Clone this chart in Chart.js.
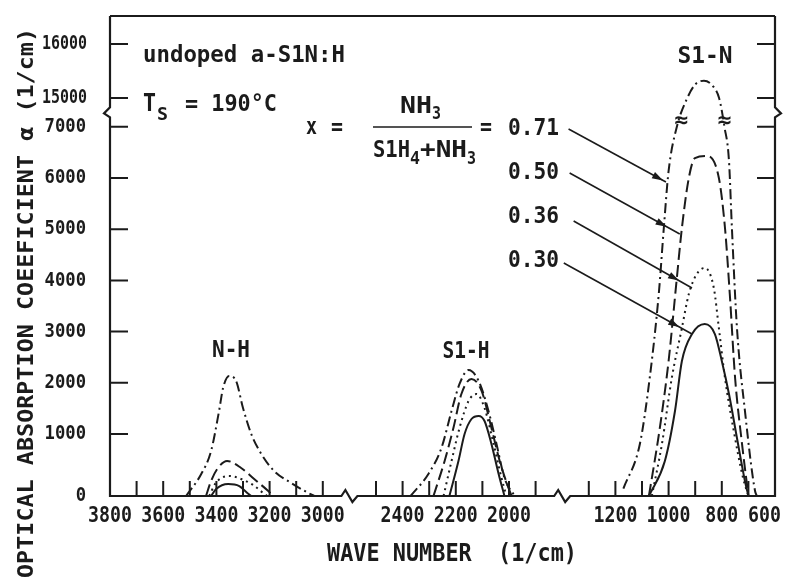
<!DOCTYPE html>
<html>
<head>
<meta charset="utf-8">
<title>a-SiN:H IR absorption</title>
<script src="https://cdn.jsdelivr.net/npm/chart.js@4.4.1/dist/chart.umd.min.js"></script>
<style>
  html, body { margin: 0; padding: 0; background: #fff; }
  #wrap { width: 787px; height: 579px; }
</style>
</head>
<body>
<div id="wrap"><canvas id="ir-chart" width="787" height="579"></canvas></div>
<script>
// gas ratio x = NH3 / (SiH4 + NH3) of each curve
const ratioLabels = ['0.71', '0.50', '0.36', '0.30'];

// labelled ticks of the broken axes
const waveTicks = [3800, 3600, 3400, 3200, 3000, 2400, 2200, 2000, 1200, 1000, 800, 600];
const alphaTicks = [0, 1000, 2000, 3000, 4000, 5000, 6000, 7000, 15000, 16000];

// N-H band (wave number 1/cm, alpha 1/cm)
const nh71Wave = [3514, 3457, 3420, 3390, 3375, 3352, 3326, 3300, 3269, 3231, 3183, 3119, 3055, 3032];
const nh71Alpha = [0, 355, 726, 1449, 1898, 2133, 2035, 1508, 1000, 677, 403, 210, 50, 0];
const nh50Wave = [3439, 3420, 3397, 3360, 3307, 3258, 3205, 3186];
const nh50Alpha = [0, 242, 435, 565, 452, 274, 80, 0];
const nh36Wave = [3427, 3405, 3382, 3352, 3307, 3262, 3224, 3209];
const nh36Alpha = [0, 194, 290, 323, 274, 177, 48, 0];
const nh30Wave = [3420, 3401, 3356, 3314, 3288, 3269];
const nh30Alpha = [0, 113, 194, 161, 65, 0];

// Si-H band
const sih71Wave = [2370, 2303, 2254, 2216, 2186, 2152, 2114, 2077, 2047, 2017, 1979];
const sih71Alpha = [0, 355, 774, 1449, 1977, 2250, 2035, 1449, 840, 290, 0];
const sih50Wave = [2284, 2242, 2209, 2179, 2141, 2103, 2066, 2035, 2002, 1990];
const sih50Alpha = [0, 565, 1117, 1781, 2074, 1840, 1117, 565, 130, 0];
const sih36Wave = [2246, 2216, 2186, 2152, 2122, 2092, 2058, 2028, 2010];
const sih36Alpha = [0, 565, 1117, 1645, 1781, 1508, 840, 290, 0];
const sih30Wave = [2224, 2190, 2167, 2141, 2114, 2092, 2066, 2039, 2017];
const sih30Alpha = [0, 565, 1000, 1293, 1352, 1254, 840, 355, 0];

// Si-N band
const sin71Wave = [1170, 1108, 1071, 1037, 1018, 1000, 969, 930, 900, 867, 830, 810, 790, 773, 762, 743, 713, 675, 668];
const sin71Alpha = [120, 840, 2094, 3734, 5023, 6137, 7000, 14950, 15250, 15320, 15200, 14950, 7000, 6332, 5023, 3070, 1450, 80, 0];
const sin50Wave = [1074, 1033, 1000, 969, 950, 924, 901, 856, 811, 788, 770, 750, 724, 700];
const sin50Alpha = [0, 1117, 2426, 4047, 5023, 6000, 6390, 6430, 6000, 5023, 3734, 2094, 840, 0];
const sin36Wave = [1063, 1025, 988, 950, 924, 894, 864, 830, 811, 788, 757, 720, 700];
const sin36Alpha = [0, 840, 2094, 3070, 3734, 4125, 4242, 3852, 3070, 2094, 1117, 290, 0];
const sin30Wave = [1074, 1014, 976, 950, 912, 864, 826, 800, 773, 743, 713, 700];
const sin30Alpha = [0, 565, 1449, 2426, 2953, 3148, 2953, 2426, 1781, 935, 242, 0];

// line style of each ratio
const ratioDash = [[10, 4, 2, 4], [12, 5], [2, 4], []];

// x axis is broken twice: 3800-2900 | 2500-1900 | 1300-600, one unit = 100 1/cm
function waveToAxis(w) {
  if (w >= 2700) return (3800 - w) / 100;
  if (w >= 1600) return (3500 - w) / 100;
  return (3100 - w) / 100;
}

// y axis: hand drawn, the 0-1000 step is taller, broken between 7000 and 15000
function alphaToAxis(a) {
  if (a <= 1000) return a * 0.062;
  if (a <= 7000) return 62 + (a - 1000) * 0.0512;
  if (a < 15000) return 369.2 + (a - 7000) * (398 - 369.2) / 8000;
  return 398 + (a - 15000) * 0.054;
}

function band(waves, alphas) {
  return waves.map((w, i) => ({ x: waveToAxis(w), y: alphaToAxis(alphas[i]) }));
}

const bands = [
  [[nh71Wave, nh71Alpha], [sih71Wave, sih71Alpha], [sin71Wave, sin71Alpha]],
  [[nh50Wave, nh50Alpha], [sih50Wave, sih50Alpha], [sin50Wave, sin50Alpha]],
  [[nh36Wave, nh36Alpha], [sih36Wave, sih36Alpha], [sin36Wave, sin36Alpha]],
  [[nh30Wave, nh30Alpha], [sih30Wave, sih30Alpha], [sin30Wave, sin30Alpha]]
];

const datasets = [];
bands.forEach((list, s) => {
  list.forEach(([w, a]) => {
    datasets.push({
      label: 'x = ' + ratioLabels[s],
      data: band(w, a),
      borderColor: '#1b1b1b',
      borderWidth: 2,
      borderDash: ratioDash[s],
      pointRadius: 0,
      fill: false,
      cubicInterpolationMode: 'monotone'
    });
  });
});

const FONT = '"DejaVu Sans Mono", "Liberation Mono", monospace';
const INK = '#1b1b1b';

// draw text squeezed/stretched to a given width
function fitText(ctx, text, x, y, width, align) {
  const m = ctx.measureText(text).width;
  let left = x;
  if (align === 'center') left = x - width / 2;
  if (align === 'right') left = x - width;
  ctx.save();
  ctx.translate(left, y);
  ctx.scale(width / m, 1);
  ctx.textAlign = 'left';
  ctx.fillText(text, 0, 0);
  ctx.restore();
}

function squeezeText(ctx, text, x, y, sx, align) {
  const w = ctx.measureText(text).width * sx;
  fitText(ctx, text, x, y, w, align);
  return w;
}

function arrow(ctx, x1, y1, x2, y2, headAt) {
  ctx.beginPath();
  ctx.moveTo(x1, y1);
  ctx.lineTo(x2, y2);
  ctx.stroke();
  const hx = x1 + (x2 - x1) * headAt;
  const hy = y1 + (y2 - y1) * headAt;
  const ang = Math.atan2(y2 - y1, x2 - x1);
  ctx.save();
  ctx.translate(hx, hy);
  ctx.rotate(ang);
  ctx.beginPath();
  ctx.moveTo(0, 0);
  ctx.lineTo(-11, -3.5);
  ctx.lineTo(-11, 3.5);
  ctx.closePath();
  ctx.fill();
  ctx.restore();
}

const framePlugin = {
  id: 'frame',
  afterDatasetsDraw(chart) {
    const { ctx, chartArea: a, scales } = chart;
    const X = w => scales.x.getPixelForValue(waveToAxis(w));
    const Y = v => scales.y.getPixelForValue(alphaToAxis(v));
    ctx.save();
    ctx.strokeStyle = INK;
    ctx.fillStyle = INK;
    ctx.lineCap = 'butt';
    ctx.setLineDash([]);

    // frame with axis breaks
    const yb = Y(11000);
    const xb1 = X(2900), xb2 = X(1400);
    ctx.lineWidth = 2.2;
    ctx.beginPath();
    ctx.moveTo(a.left, a.top);
    ctx.lineTo(a.right, a.top);
    ctx.stroke();
    ctx.beginPath();
    ctx.moveTo(a.left, a.top);
    ctx.lineTo(a.left, yb - 5);
    ctx.lineTo(a.left - 6, yb + 1);
    ctx.lineTo(a.left, yb + 5);
    ctx.lineTo(a.left, a.bottom);
    [xb1, xb2].forEach(xb => {
      ctx.lineTo(xb - 8, a.bottom);
      ctx.lineTo(xb - 4, a.bottom - 6);
      ctx.lineTo(xb + 3, a.bottom + 6);
      ctx.lineTo(xb + 8, a.bottom);
    });
    ctx.lineTo(a.right, a.bottom);
    ctx.lineTo(a.right, yb + 5);
    ctx.lineTo(a.right + 6, yb + 1);
    ctx.lineTo(a.right, yb - 5);
    ctx.lineTo(a.right, a.top);
    ctx.stroke();

    // inward tick marks
    ctx.lineWidth = 2;
    const minor = [];
    for (let w = 3700; w >= 3000; w -= 100) minor.push(w);
    for (let w = 2500; w >= 1900; w -= 100) minor.push(w);
    for (let w = 1300; w >= 700; w -= 100) minor.push(w);
    ctx.beginPath();
    minor.forEach(w => {
      ctx.moveTo(X(w), a.bottom);
      ctx.lineTo(X(w), a.bottom - 15);
    });
    alphaTicks.filter(v => v > 0).forEach(v => {
      ctx.moveTo(a.left, Y(v));
      ctx.lineTo(a.left + 18, Y(v));
      ctx.moveTo(a.right, Y(v));
      ctx.lineTo(a.right - 18, Y(v));
    });
    ctx.stroke();

    // tick labels
    ctx.textBaseline = 'middle';
    ctx.font = 'bold 22px ' + FONT;
    waveTicks.forEach(w => {
      const label = String(w);
      const width = ctx.measureText(label).width * 0.83;
      let cx = X(w);
      cx = Math.min(cx, chart.width - 6 - width / 2);
      squeezeText(ctx, label, cx, 516, 0.83, 'center');
    });
    ctx.font = 'bold 20px ' + FONT;
    alphaTicks.forEach(v => {
      const label = String(v);
      if (label.length === 5) fitText(ctx, label, 87, Y(v), 45, 'right');
      else squeezeText(ctx, label, 86, Y(v), 0.86, 'right');
    });

    // axis titles
    ctx.textBaseline = 'alphabetic';
    ctx.font = 'bold 24px ' + FONT;
    fitText(ctx, 'WAVE NUMBER  (1/cm)', 327, 561, 250, 'left');
    ctx.save();
    ctx.translate(33, 578);
    ctx.rotate(-Math.PI / 2);
    ctx.font = 'bold 22px ' + FONT;
    fitText(ctx, 'OPTICAL ABSORPTION COEEFICIENT \u03b1 (1/cm)', 0, 0, 550, 'left');
    ctx.restore();

    // band names and sample notes
    ctx.font = 'bold 23px ' + FONT;
    fitText(ctx, 'N-H', 231, 357, 38, 'center');
    fitText(ctx, 'S1-H', 466, 358, 47, 'center');
    fitText(ctx, 'S1-N', 705, 63, 55, 'center');
    fitText(ctx, 'undoped a-S1N:H', 143, 62, 202, 'left');
    ctx.font = 'bold 25px ' + FONT;
    fitText(ctx, 'T', 143, 111, 13, 'left');
    ctx.font = 'bold 23px ' + FONT;
    fitText(ctx, '= 190\u00b0C', 185, 111, 92, 'left');
    fitText(ctx, 'x', 306, 134, 11, 'left');
    fitText(ctx, '=', 331, 134, 12, 'left');
    fitText(ctx, 'NH', 400, 113, 32, 'left');
    fitText(ctx, 'S1H', 373, 157, 37, 'left');
    fitText(ctx, '+NH', 420, 157, 47, 'left');
    fitText(ctx, '=', 480, 134, 12, 'left');
    ratioLabels.forEach((r, i) => {
      fitText(ctx, r, 508, 135 + i * 44, 51, 'left');
    });
    ctx.font = 'bold 18px ' + FONT;
    fitText(ctx, 'S', 157, 120, 11, 'left');
    fitText(ctx, '3', 432, 119, 9, 'left');
    fitText(ctx, '4', 410, 164, 10, 'left');
    fitText(ctx, '3', 467, 164, 9, 'left');

    // fraction bar
    ctx.lineWidth = 1.6;
    ctx.beginPath();
    ctx.moveTo(373, 127);
    ctx.lineTo(472, 127);
    ctx.stroke();

    // arrows from the ratio labels to the Si-N curves (data coordinates)
    const arrows = [
      { w1: 1376, a1: 6957, w2: 1010, a2: 5922, head: 0.97 },
      { w1: 1372, a1: 6098, w2: 958, a2: 4906, head: 0.88 },
      { w1: 1357, a1: 5160, w2: 912, a2: 3852, head: 0.89 },
      { w1: 1394, a1: 4340, w2: 912, a2: 2953, head: 0.9 }
    ];
    ctx.lineWidth = 1.6;
    arrows.forEach(p => arrow(ctx, X(p.w1), Y(p.a1), X(p.w2), Y(p.a2), p.head));

    // break marks on the x = 0.71 curve
    ctx.font = 'bold 22px ' + FONT;
    ctx.textBaseline = 'middle';
    fitText(ctx, '\u2248', X(952), Y(8500), 14, 'center');
    fitText(ctx, '\u2248', X(790), Y(8500), 14, 'center');
    ctx.restore();
  }
};

new Chart(document.getElementById('ir-chart'), {
  type: 'line',
  data: { datasets },
  options: {
    responsive: false,
    animation: false,
    devicePixelRatio: 1,
    layout: { padding: { left: 110, right: 12, top: 16, bottom: 83 } },
    scales: {
      x: { type: 'linear', min: 0, max: 25, display: false },
      y: { type: 'linear', min: 0, max: 480, display: false }
    },
    plugins: {
      legend: { display: false },
      tooltip: { enabled: false }
    }
  },
  plugins: [framePlugin]
});
</script>
</body>
</html>
